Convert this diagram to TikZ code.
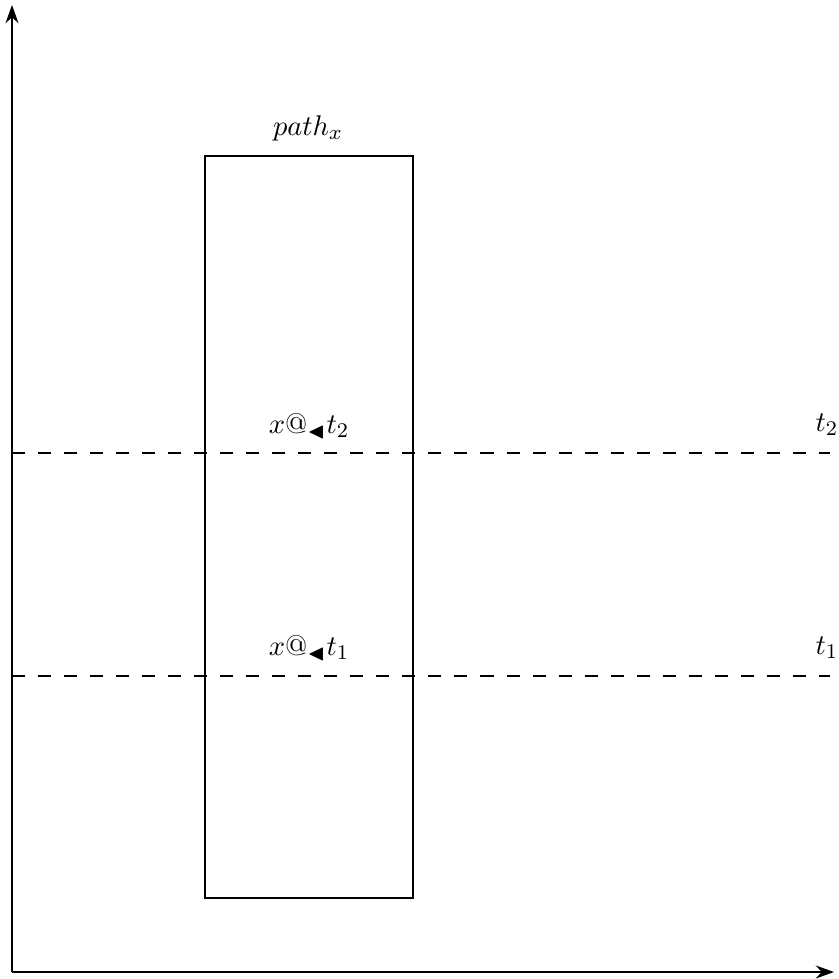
\documentclass[tikz,border=0pt]{standalone}
\usepackage{amssymb}
\usetikzlibrary{arrows.meta}
\begin{document}
\begin{tikzpicture}[x=0.0135cm,y=-0.0135cm,
  axis/.style={-{Stealth[length=7pt,width=5pt]},line width=0.7pt},
  level/.style={dash pattern=on 5pt off 5pt,line width=0.6pt},
  lbl/.style={inner sep=0pt,font=\fontsize{11}{13}\selectfont}]
\useasboundingbox (0,0) rectangle (839,979);
\coordinate (O) at (12,972);
\coordinate (Ytop) at (12,5);
\coordinate (Xend) at (834,972);
\draw[axis] (O) -- (Ytop);
\draw[axis] (O) -- (Xend);
\node[draw,line width=0.6pt,minimum width={208*0.0135cm},minimum height={742*0.0135cm},inner sep=0pt] (box) at (309,527) {};
\coordinate (L2a) at (12,453); \coordinate (L2b) at (830,453);
\coordinate (L1a) at (12,676); \coordinate (L1b) at (830,676);
\draw[level] (L2a) -- (L2b);
\draw[level] (L1a) -- (L1b);
\node[lbl] (px) at (308,128) {$path_x$};
\node[lbl] (x2) at (309,426) {$x@_{\blacktriangleleft}t_2$};
\node[lbl] (x1) at (309,648) {$x@_{\blacktriangleleft}t_1$};
\node[lbl] (t2) at (827,425) {$t_2$};
\node[lbl] (t1) at (827,648) {$t_1$};
\end{tikzpicture}
\end{document}
